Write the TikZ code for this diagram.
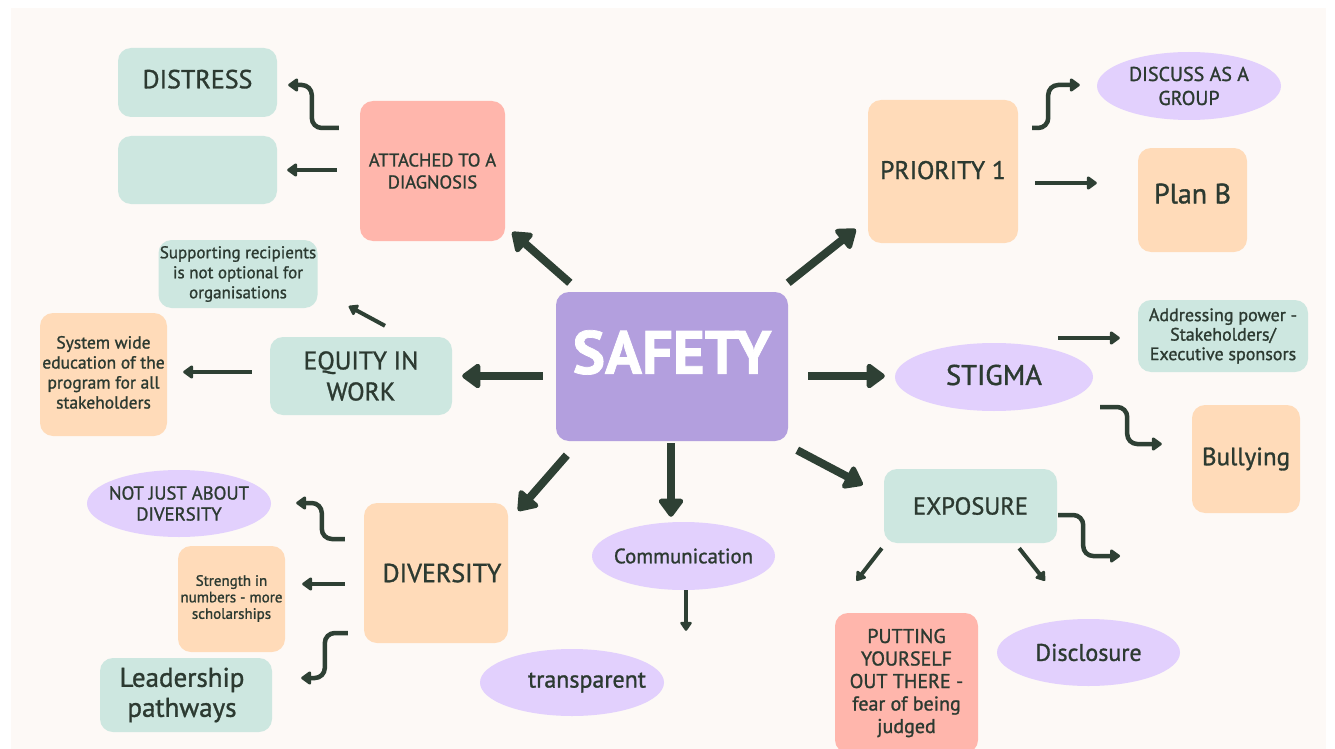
\documentclass[tikz,border=0pt]{standalone}
\usepackage{fontspec}
\setmainfont{PT Sans}[FakeBold=1.2]
\usetikzlibrary{arrows.meta,shapes.geometric,calc}
\definecolor{bgc}{HTML}{FDF9F6}
\definecolor{ink}{HTML}{2C3A31}
\definecolor{arr}{HTML}{2E4034}
\definecolor{cteal}{HTML}{CDE7E0}
\definecolor{cpink}{HTML}{FFB6AC}
\definecolor{cpeach}{HTML}{FFDBB9}
\definecolor{clav}{HTML}{E2D0FD}
\definecolor{cpurple}{HTML}{B39FDE}
\newcommand{\fs}[2]{\fontsize{#1}{#2}\selectfont}
\begin{document}
\begin{tikzpicture}[x=1pt,y=-1pt,
  box/.style={rectangle, rounded corners=13pt, inner sep=0pt, align=center, text=ink},
  oval/.style={ellipse, inner sep=0pt, fill=clav},
  ovaltext/.style={text=ink, align=center, inner sep=0pt},
  big/.style={draw=arr, line width=8pt, -{Triangle[width=28pt,length=20pt,round]}},
  med/.style={draw=arr, line width=4.5pt, rounded corners=10pt, -{Triangle[width=15pt,length=11pt,round]}},
  sml/.style={draw=arr, line width=4pt, -{Triangle[width=13pt,length=10pt,round]}}]
\useasboundingbox (0,0) rectangle (1335,749);
\fill[white] (0,0) rectangle (1335,749);
\fill[bgc] (11,8) rectangle (1326,749);

% nodes
\node[box, fill=cteal, minimum width=159pt, minimum height=69pt, font=\fs{26}{30}] (distress) at (197.5,82.5) {\raisebox{7pt}{DISTRESS}};
\node[box, fill=cteal, minimum width=159pt, minimum height=68pt] (empty) at (197.5,170) {};
\node[box, fill=cpink, minimum width=145pt, minimum height=140pt, font=\fs{18.5}{22}] (attached) at (432.5,171) {ATTACHED TO A\\DIAGNOSIS};
\node[box, fill=cteal, minimum width=159pt, minimum height=68pt, font=\fs{17}{20}] (supporting) at (238,274) {Supporting recipients\\is not optional for\\organisations};
\node[box, fill=cpeach, minimum width=127pt, minimum height=123pt, font=\fs{17.5}{20}] (system) at (103.5,374.5) {\raisebox{2pt}{\begin{tabular}{@{}c@{}}System wide\\education of the\\program for all\\stakeholders\end{tabular}}};
\node[box, fill=cteal, minimum width=182pt, minimum height=78pt, font=\fs{25.5}{31}] (equity) at (361,376) {EQUITY IN\\WORK};
\node[box, fill=cpurple, minimum width=232pt, minimum height=149pt, text=white, font=\fs{61}{66}\bfseries] (safety) at (672,366.5) {\raisebox{29pt}{SAFETY}};
\node[box, fill=cpeach, minimum width=150pt, minimum height=143pt, font=\fs{25.5}{28}] (priority) at (943,171.5) {\raisebox{3pt}{PRIORITY 1}};
\node[oval, minimum width=184pt, minimum height=68pt, label={[ovaltext, font=\fs{20}{24}]center:DISCUSS AS A\\GROUP}] (discuss) at (1189,86) {};
\node[box, fill=cpeach, minimum width=109pt, minimum height=104pt, font=\fs{28}{30}] (planb) at (1192.5,200) {\raisebox{13pt}{Plan B}};
\node[oval, minimum width=198pt, minimum height=68pt, label={[ovaltext, font=\fs{28.5}{30}, yshift=2pt]center:STIGMA}] (stigma) at (994,377) {};
\node[box, fill=cteal, minimum width=170pt, minimum height=72pt, font=\fs{18}{19.5}] (addressing) at (1223,336) {Addressing power -\\Stakeholders/\\Executive sponsors};
\node[box, fill=cpeach, minimum width=108pt, minimum height=108pt, font=\fs{25}{30}] (bullying) at (1246,459) {\raisebox{-4pt}{Bullying}};
\node[box, fill=cteal, minimum width=173pt, minimum height=74pt, font=\fs{24.5}{28}] (exposure) at (970.5,506) {EXPOSURE};
\node[box, fill=cpink, minimum width=143pt, minimum height=140pt, font=\fs{20}{22.5}] (putting) at (906.5,683) {PUTTING\\YOURSELF\\OUT THERE -\\fear of being\\judged};
\node[oval, minimum width=183pt, minimum height=67pt, label={[ovaltext, font=\fs{24}{28}]center:Disclosure}] (disclosure) at (1088.5,652.5) {};
\node[oval, minimum width=183pt, minimum height=68pt, label={[ovaltext, font=\fs{20.8}{24}]center:Communication}] (communication) at (683.5,556) {};
\node[oval, minimum width=184pt, minimum height=67pt, label={[ovaltext, font=\fs{24}{26}, xshift=15pt]center:transparent}] (transparent) at (572,682.5) {};
\node[box, fill=cpeach, minimum width=144pt, minimum height=140pt, font=\fs{26}{30}] (diversity) at (436,573) {\hspace*{12pt}\raisebox{-3pt}{DIVERSITY}};
\node[oval, minimum width=184pt, minimum height=67pt, label={[ovaltext, font=\fs{18.7}{21}]center:NOT JUST ABOUT\\DIVERSITY}] (notjust) at (179,503.5) {};
\node[box, fill=cpeach, minimum width=107pt, minimum height=106pt, font=\fs{15}{16.5}] (strength) at (231.5,599) {\raisebox{14pt}{\begin{tabular}{@{}c@{}}Strength in\\numbers - more\\scholarships\end{tabular}}};
\node[box, fill=cteal, minimum width=172pt, minimum height=74pt, font=\fs{27}{30}] (leadership) at (186,695) {\hspace*{-8pt}Leadership\\\hspace*{-8pt}pathways};

% main arrows from SAFETY
\draw[big] ($(safety.north west)+(14,-9)$) -- ($(attached.south east)+(7,-9)$);
\draw[big] ($(safety.north east)+(0,-9)$) -- ($(priority.south west)+(-12,-14)$);
\draw[big] ($(safety.east)+(20,9.5)$) -- ($(stigma.west)+(-10,-1)$);
\draw[big] ($(safety.south east)+(9,9)$) -- ($(exposure.north west)+(-21,16)$);
\draw[big] ($(safety.south)+(-1,2)$) -- ($(communication.north)+(-12.5,-5)$);
\draw[big] ($(safety.south west)+(11,14)$) -- ($(diversity.north east)+(10,8)$);
\draw[big] ($(safety.west)+(-13,9.5)$) -- ($(equity.east)+(10,0)$);

% secondary arrows
\draw[med] ($(attached.west)+(-21,-43)$) -- ++(-27,0) -- ++(0,-43) -- ($(distress.east)+(11,2.5)$);
\draw[med] ($(attached.west)+(-23,-1)$) -- ($(empty.east)+(10,0)$);
\draw[sml] ($(equity.north)+(24,-11)$) -- ($(supporting.south east)+(31,-2)$);
\draw[med] ($(equity.west)+(-18,-4)$) -- ($(system.east)+(16,-2.5)$);
\draw[med] ($(priority.east)+(14,-43.5)$) -- ++(16,0) -- ++(0,-43) -- ($(discuss.west)+(-17,-1)$);
\draw[med] ($(priority.east)+(17,11.5)$) -- ($(planb.west)+(-41,-17)$);
\draw[med] ($(stigma.east)+(-35,-39)$) -- ($(addressing.west)+(-18,2)$);
\draw[med] ($(stigma.east)+(7,30)$) -- ++(27,0) -- ++(0,37) -- ($(bullying.west)+(-30,-15)$);
\coordinate (expend) at (1120,556);
\draw[med] ($(exposure.east)+(1,9)$) -- ++(25,0) -- ++(0,41) -- (expend);
\draw[sml] ($(exposure.south west)+(-2,5)$) -- ($(putting.north)+(-50,-32)$);
\draw[sml] ($(exposure.south east)+(-38,5)$) -- ($(disclosure.north)+(-43.5,-38)$);
\draw[sml] ($(communication.south)+(2.5,0)$) -- ($(transparent.north)+(114,-18)$);
\draw[med] ($(diversity.west)+(-19,-34)$) -- ++(-23,0) -- ++(0,-36) -- ($(notjust.east)+(25,-0.5)$);
\draw[med] ($(diversity.west)+(-19,11)$) -- ($(strength.east)+(17,-15)$);
\draw[med] ($(diversity.west)+(-16,60)$) -- ++(-23,0) -- ++(0,45) -- ($(leadership.east)+(29,-17)$);
\end{tikzpicture}
\end{document}
